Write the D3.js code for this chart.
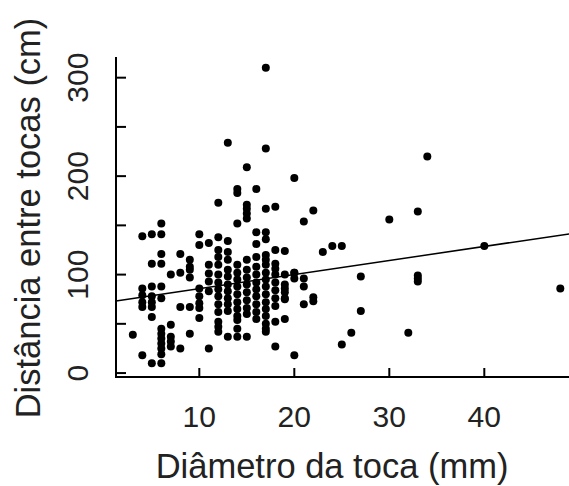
<!DOCTYPE html>
<html>
<head>
<meta charset="utf-8">
<script src="https://cdn.jsdelivr.net/npm/d3@7"></script>
<style>
  body { margin: 0; background: #fff; }
  svg { display: block; font-family: "Liberation Sans", Arial, sans-serif; }
</style>
</head>
<body>
<svg></svg>
<script>
// tick labels
var xTicks = [10, 20, 30, 40];
var yTicks = [0, 50, 100, 150, 200, 250, 300];
var yLabels = [0, 100, 200, 300];

// points: diametro (mm) / distancia (cm)
var diam = [
  17, 13, 17, 15, 34, 20, 14, 14, 16, 12, 15, 15, 15, 15, 17, 18, 22, 21, 33, 30, 14,
  19, 23, 24, 25, 40, 20, 20, 21, 21, 27, 33, 33, 33, 48, 19, 19, 22, 22, 21, 27, 26, 25, 32, 20, 18,
  6, 4, 5, 6, 10, 10, 11, 6, 5, 6, 8, 9, 9, 7, 8, 9, 9,
  4, 5, 6, 4, 5, 4, 5, 6, 4, 5, 8, 9,
  10, 10, 10, 10, 5, 10, 3,
  6, 6, 6, 6, 6, 6, 7, 7, 7, 7, 8, 9, 11, 4, 5, 6,
  12, 13, 12, 13, 16, 17, 17, 16, 18, 17, 18, 18, 20,
  12, 12, 12, 12, 12, 12, 12, 12, 12, 12, 12,
  13, 13, 13, 13, 13, 13, 13, 13, 13,
  14, 14, 14, 14, 14, 14, 14, 14, 14, 14, 14,
  15, 15, 15, 15, 15, 15, 15, 15, 15,
  16, 16, 16, 16, 16, 16, 16, 16, 16,
  17, 17, 17, 17, 17, 17, 17, 17, 17, 17, 17, 17,
  18, 18, 18, 18, 18, 18,
  19, 19, 19, 19, 19,
  11, 11, 11, 11
];
var dist = [
  310, 234, 228, 209, 220, 198, 187, 183, 187, 173, 171, 167, 162, 157, 167, 169, 165, 154, 164, 156, 152,
  124, 123, 129, 129, 129, 102, 96, 96, 88, 98, 99, 96, 93, 86, 86, 76, 77, 73, 70, 63, 41, 29, 41, 18, 27,
  152, 139, 141, 141, 141, 130, 132, 121, 111, 111, 121, 115, 108, 100, 102, 105, 97,
  86, 88, 88, 79, 78, 72, 72, 76, 67, 67, 67, 67,
  86, 78, 71, 66, 57, 56, 39,
  45, 40, 35, 30, 25, 19, 49, 37, 32, 27, 25, 40, 25, 18, 10, 10,
  138, 134, 125, 123, 143, 143, 136, 131, 125, 115, 111, 106, 102,
  118, 110, 100, 92, 85, 78, 70, 62, 52, 47, 42,
  115, 105, 98, 90, 83, 76, 70, 63, 37,
  110, 102, 95, 88, 80, 72, 65, 58, 54, 45, 37,
  115, 105, 97, 90, 82, 74, 66, 60, 37,
  118, 108, 100, 92, 85, 78, 70, 62, 55,
  120, 110, 102, 95, 88, 80, 72, 65, 58, 50, 45, 42,
  100, 92, 84, 76, 68, 52,
  100, 90, 82, 75, 55,
  110, 101, 93, 83
];

// fitted line
var fitIntercept = 71.4,
    fitSlope = 1.43;

var width = 569,
    height = 486;

var svg = d3.select("svg")
    .attr("width", width)
    .attr("height", height);

var x = d3.scaleLinear().domain([1.23, 49.8]).range([116, 577.4]);
var y = d3.scaleLinear().domain([-4, 321]).range([377, 57]);

// L shaped frame
svg.append("path")
    .attr("d", "M" + x(1.23) + "," + y(321) + "V" + y(-4) + "H" + width)
    .attr("fill", "none")
    .attr("stroke", "#000")
    .attr("stroke-width", 2);

// ticks, pointing inwards
svg.selectAll(".xt").data(xTicks).enter().append("line")
    .attr("x1", d => x(d)).attr("x2", d => x(d))
    .attr("y1", y(-4)).attr("y2", y(-4) - 9)
    .attr("stroke", "#000").attr("stroke-width", 2);

svg.selectAll(".yt").data(yTicks).enter().append("line")
    .attr("x1", x(1.23)).attr("x2", x(1.23) + 10)
    .attr("y1", d => y(d)).attr("y2", d => y(d))
    .attr("stroke", "#000").attr("stroke-width", 2);

svg.selectAll(".xl").data(xTicks).enter().append("text")
    .attr("x", d => x(d))
    .attr("y", 427)
    .attr("text-anchor", "middle")
    .attr("font-size", "30px")
    .attr("fill", "#222")
    .text(d => d);

svg.selectAll(".yl").data(yLabels).enter().append("text")
    .attr("transform", d => "translate(88," + y(d) + ") rotate(-90)")
    .attr("text-anchor", "middle")
    .attr("font-size", "30px")
    .attr("fill", "#222")
    .text(d => d);

svg.append("text")
    .attr("x", 332)
    .attr("y", 478)
    .attr("text-anchor", "middle")
    .attr("font-size", "34.5px")
    .attr("fill", "#222")
    .text("Diâmetro da toca (mm)");

svg.append("text")
    .attr("transform", "translate(40,218) rotate(-90)")
    .attr("text-anchor", "middle")
    .attr("font-size", "34.5px")
    .attr("fill", "#222")
    .text("Distância entre tocas (cm)");

// regression line
var xd = x.domain();
svg.append("line")
    .attr("x1", x(xd[0])).attr("y1", y(fitIntercept + fitSlope * xd[0]))
    .attr("x2", x(xd[1])).attr("y2", y(fitIntercept + fitSlope * xd[1]))
    .attr("stroke", "#000")
    .attr("stroke-width", 1.5);

// points
svg.selectAll("circle").data(diam).enter().append("circle")
    .attr("cx", d => x(d))
    .attr("cy", (d, i) => y(dist[i]))
    .attr("r", 4)
    .attr("fill", "#000");
</script>
</body>
</html>
